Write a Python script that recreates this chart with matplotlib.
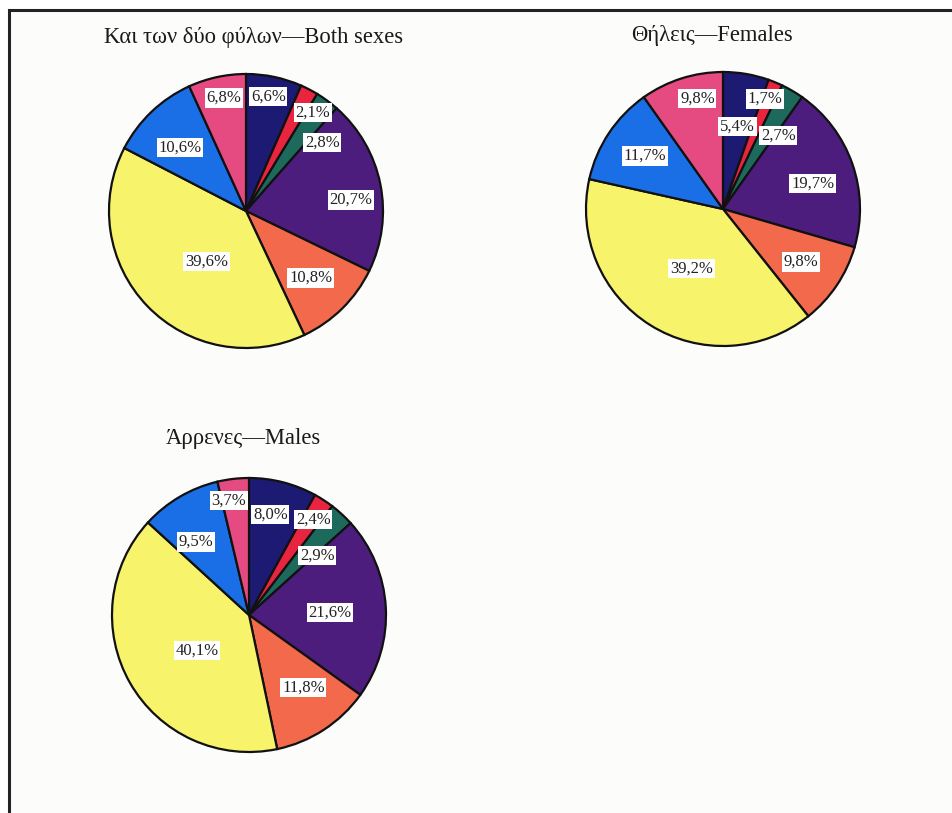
import numpy as np
import matplotlib.pyplot as plt
from matplotlib.patches import Rectangle

# share of each group, clockwise from 12 o'clock
both_values = [6.6, 2.1, 2.8, 20.7, 10.8, 39.6, 10.6, 6.8]
female_values = [5.4, 1.7, 2.7, 19.7, 9.8, 39.2, 11.7, 9.8]
male_values = [8.0, 2.4, 2.9, 21.6, 11.8, 40.1, 9.5, 3.7]

titles = ['Και των δύο φύλων—Both sexes', 'Θήλεις—Females', 'Άρρενες—Males']

colors = ['#1c1a72', '#e8243e', '#1d6a5c', '#4c1d7c',
          '#f2694b', '#f7f36a', '#1a6fe6', '#e54a80']

# label placement: (radius fraction, angle from top clockwise in degrees)
both_labels = [(0.85, 11), (0.87, 34), (0.75, 48), (0.77, 84),
               (0.68, 136), (0.47, 218), (0.67, 314), (0.84, 349)]
female_labels = [(0.61, 10), (0.86, 21), (0.67, 37), (0.68, 74),
                 (0.69, 124), (0.49, 208), (0.69, 304), (0.83, 347)]
male_labels = [(0.75, 12), (0.84, 34), (0.66, 49), (0.59, 88),
               (0.66, 143), (0.46, 236), (0.66, 324), (0.85, 350)]

W, H = 952, 813
fig = plt.figure(figsize=(W / 100, H / 100), dpi=100)
fig.patch.set_facecolor('white')

# frame of the page
bg = fig.add_axes([0, 0, 1, 1])
bg.set_xlim(0, W)
bg.set_ylim(H, 0)
bg.axis('off')
bg.add_patch(Rectangle((9, 10), W + 20, H + 20, facecolor='#fcfcfa',
                       edgecolor='#222222', lw=2.2))

serif = ['Liberation Serif', 'DejaVu Serif']


def draw_pie(cx, cy, r, values, labels, title, tx, ty):
    pad = 1.04
    ax = fig.add_axes([(cx - r * pad) / W, (H - cy - r * pad) / H,
                       2 * r * pad / W, 2 * r * pad / H])
    ax.pie(values, colors=colors, startangle=90, counterclock=False,
           wedgeprops=dict(edgecolor='#111111', linewidth=1.6))
    ax.set_xlim(-pad, pad)
    ax.set_ylim(-pad, pad)
    ax.axis('off')
    for v, (rf, ang) in zip(values, labels):
        a = np.deg2rad(ang)
        ax.text(rf * np.sin(a), rf * np.cos(a), f'{v:.1f}%'.replace('.', ','),
                ha='center', va='center', fontsize=12, family=serif,
                color='#222222',
                bbox=dict(boxstyle='square,pad=0.1', facecolor='white',
                          edgecolor='none'))
    fig.text(tx / W, 1 - ty / H, title, ha='center', va='center',
             fontsize=16.3, family=serif, color='#1a1a1a')


draw_pie(246, 211, 137, both_values, both_labels, titles[0], 254, 37)
draw_pie(723, 209, 137, female_values, female_labels, titles[1], 712, 35)
draw_pie(249, 615, 137, male_values, male_labels, titles[2], 243, 438)

fig.savefig('out.png', dpi=100)
